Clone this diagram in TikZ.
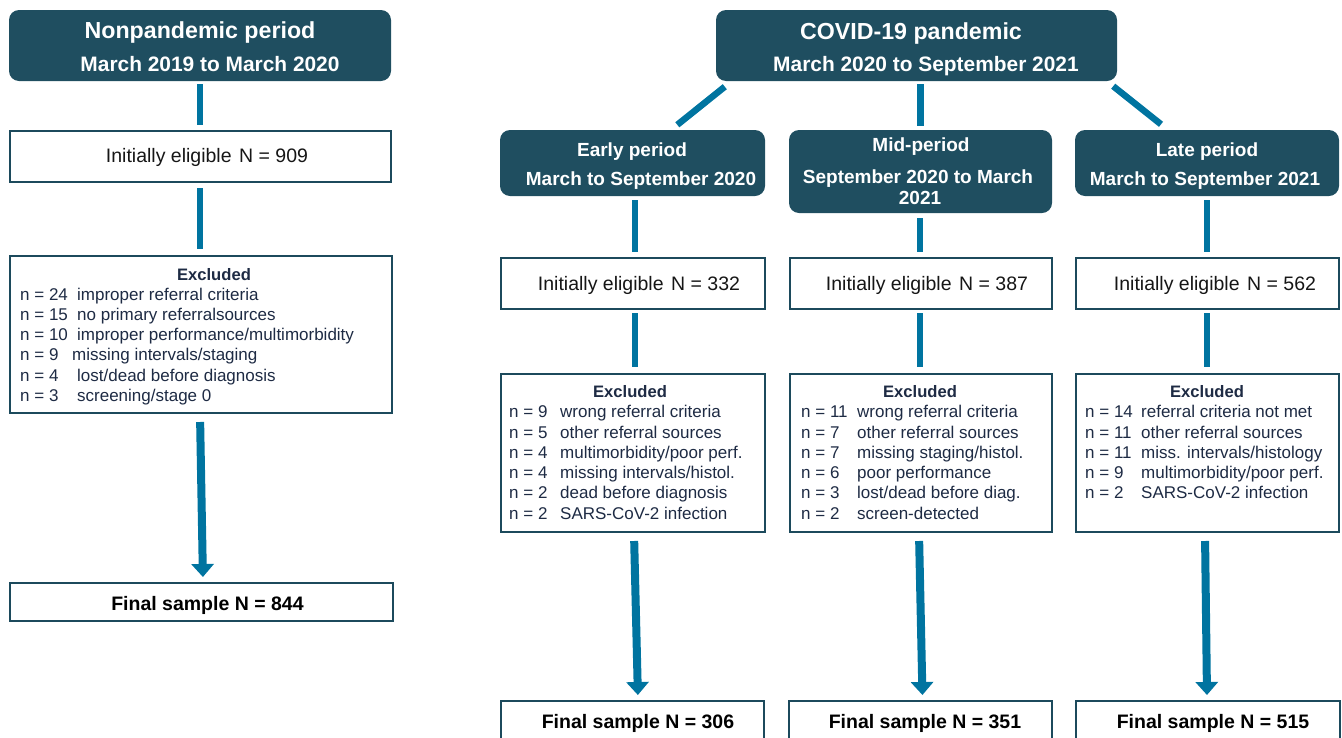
\documentclass[tikz,border=0pt]{standalone}
\usepackage{fontspec}
\setmainfont{Liberation Sans}
\usetikzlibrary{arrows.meta,calc}
\definecolor{hdrfill}{RGB}{31,78,96}
\definecolor{bord}{RGB}{28,74,92}
\definecolor{connc}{RGB}{0,116,160}
\definecolor{navy}{RGB}{30,43,68}
\definecolor{ink}{RGB}{22,22,22}
\newcommand{\fsz}[2]{\fontsize{#1}{#2}\selectfont}
\newcommand{\nn}[2]{\makebox[#1][l]{#2}}
\begin{document}
\begin{tikzpicture}[x=1pt,y=-1pt,
  hdr/.style={fill=hdrfill, rounded corners=10pt, inner sep=0pt},
  bx/.style={draw=bord, line width=2pt, fill=white, inner sep=0pt},
  conn/.style={draw=connc, line width=6.5pt},
  arr/.style={draw=connc, line width=8pt, -{Triangle[width=22pt,length=13pt]}},
  tx/.style={inner sep=0pt, anchor=base},
  hA/.style={tx, text=white, font=\bfseries\fsz{23.2}{27}},
  hB/.style={tx, text=white, font=\bfseries\fsz{20.9}{25}},
  hS/.style={tx, text=white, font=\bfseries\fsz{19}{23}},
  el/.style={tx, text=ink, font=\fsz{19.5}{23}},
  exh/.style={tx, text=navy, font=\bfseries\fsz{16.6}{20}},
  exr/.style={inner sep=0pt, anchor=base west, text=navy, font=\fsz{17}{20.3}},
  fin/.style={tx, text=black, font=\bfseries\fsz{19.5}{23}}
]
\useasboundingbox (0,0) rectangle (1342,737);
\clip (0,0) rectangle (1342,737);

% ---------------- Left column ----------------
\node[hdr, minimum width=382pt, minimum height=71pt] (np) at (200,45.5) {};
\node[hA] (np1) at (200,38.3) {Nonpandemic period};
\node[hB] (np2) at (210,71) {March 2019 to March 2020};

\node[bx, minimum width=381pt, minimum height=51pt] (eligL) at (200.5,156.5) {};
\node[el] (eligLt) at (207,162) {Initially eligible\hspace{7.5pt}N = 909};

\node[bx, minimum width=382pt, minimum height=157pt] (exclL) at (201,334.5) {};
\node[exh] (exclLh) at (214,280) {Excluded};
\node[exr] (exclLr) at (20,300) {\begin{tabular}[t]{@{}l@{}}
\nn{57pt}{n = 24}improper referral criteria\\
\nn{57pt}{n = 15}no primary referralsources\\
\nn{57pt}{n = 10}improper performance/multimorbidity\\
\nn{52pt}{n = 9}missing intervals/staging\\
\nn{57pt}{n = 4}lost/dead before diagnosis\\
\nn{57pt}{n = 3}screening/stage 0
\end{tabular}};

\node[bx, minimum width=383pt, minimum height=38pt] (finL) at (201.5,602) {};
\node[fin] (finLt) at (207.5,610) {Final sample N = 844};

\draw[conn, shorten <=3pt, shorten >=5pt] (np.south) -- (np.south |- eligL.north);
\draw[conn, shorten <=5pt, shorten >=6pt] (eligL.south -| np.south) -- (np.south |- exclL.north);
\draw[arr, shorten <=8pt, shorten >=5pt] ($(exclL.south)+(-1,0)$) -- ($(finL.north)+(1.5,0)$);

% ---------------- Right part ----------------
\node[hdr, minimum width=401pt, minimum height=71pt] (cov) at (916.5,45.5) {};
\node[hA] (cov1) at (911,39) {COVID-19 pandemic};
\node[hB] (cov2) at (926,71) {March 2020 to September 2021};

\node[hdr, minimum width=265pt, minimum height=66pt] (earlyH) at (632.5,163) {};
\node[hS] (earlyH1) at (632,156) {Early period};
\node[hS] (earlyH2) at (641,185) {March to September 2020};

\node[hdr, minimum width=263pt, minimum height=83pt] (midH) at (920.5,171.5) {};
\node[hS] (midH1) at (921,151.7) {Mid-period};
\node[hS] (midH2) at (918,183.3) {September 2020 to March};
\node[hS] (midH3) at (920,204) {2021};

\node[hdr, minimum width=264pt, minimum height=66pt] (lateH) at (1207,163) {};
\node[hS] (lateH1) at (1207,156) {Late period};
\node[hS] (lateH2) at (1205,185) {March to September 2021};

% connectors from pandemic header
\draw[conn] ($(cov.south west)+(9,5.5)$) -- ($(earlyH.north)+(44.8,-5)$);
\draw[conn, shorten <=3pt, shorten >=4pt] (cov.south -| midH.north) -- (midH.north);
\draw[conn] ($(cov.south east)+(-4,5)$) -- ($(lateH.north)+(-46,-5.5)$);

% eligible boxes
\node[bx, minimum width=264pt, minimum height=51pt] (eligE) at (633,283.5) {};
\node[el] (eligEt) at (639,290) {Initially eligible\hspace{7.5pt}N = 332};
\node[bx, minimum width=262pt, minimum height=51pt] (eligM) at (921,283.5) {};
\node[el] (eligMt) at (927,290) {Initially eligible\hspace{7.5pt}N = 387};
\node[bx, minimum width=263pt, minimum height=51pt] (eligLa) at (1207.5,283.5) {};
\node[el] (eligLat) at (1215,290) {Initially eligible\hspace{7.5pt}N = 562};

\draw[conn, shorten <=4pt, shorten >=5pt] ($(earlyH.south)+(2.5,0)$) -- ($(eligE.north)+(2,0)$);
\draw[conn, shorten <=5pt, shorten >=5pt] ($(midH.south)+(-0.5,0)$) -- ($(eligM.north)+(-1,0)$);
\draw[conn, shorten <=4pt, shorten >=5pt] (lateH.south) -- ($(eligLa.north)+(-0.5,0)$);

% excluded boxes
\node[bx, minimum width=264pt, minimum height=158pt] (exclE) at (633,453) {};
\node[exh] (exclEh) at (630,397.3) {Excluded};
\node[exr] (exclEr) at (509,417.7) {\begin{tabular}[t]{@{}l@{}}
\nn{51pt}{n = 9}wrong referral criteria\\
\nn{51pt}{n = 5}other referral sources\\
\nn{51pt}{n = 4}multimorbidity/poor perf.\\
\nn{51pt}{n = 4}missing intervals/histol.\\
\nn{51pt}{n = 2}dead before diagnosis\\
\nn{51pt}{n = 2}SARS-CoV-2 infection
\end{tabular}};

\node[bx, minimum width=262pt, minimum height=158pt] (exclM) at (921,453) {};
\node[exh] (exclMh) at (920,397.3) {Excluded};
\node[exr] (exclMr) at (801,417.7) {\begin{tabular}[t]{@{}l@{}}
\nn{56pt}{n = 11}wrong referral criteria\\
\nn{56pt}{n = 7}other referral sources\\
\nn{56pt}{n = 7}missing staging/histol.\\
\nn{56pt}{n = 6}poor performance\\
\nn{56pt}{n = 3}lost/dead before diag.\\
\nn{56pt}{n = 2}screen-detected
\end{tabular}};

\node[bx, minimum width=263pt, minimum height=158pt] (exclLa) at (1207.5,453) {};
\node[exh] (exclLah) at (1207,397.3) {Excluded};
\node[exr] (exclLar) at (1085,417.7) {\begin{tabular}[t]{@{}l@{}}
\nn{56pt}{n = 14}referral criteria not met\\
\nn{56pt}{n = 11}other referral sources\\
\nn{56pt}{n = 11}miss. intervals/histology\\
\nn{56pt}{n = 9}multimorbidity/poor perf.\\
\nn{56pt}{n = 2}SARS-CoV-2 infection
\end{tabular}};

\draw[conn, shorten <=3pt, shorten >=6pt] ($(eligE.south)+(2,0)$) -- ($(exclE.north)+(2,0)$);
\draw[conn, shorten <=3pt, shorten >=6pt] ($(eligM.south)+(-1,0)$) -- ($(exclM.north)+(-1,0)$);
\draw[conn, shorten <=3pt, shorten >=6pt] ($(eligLa.south)+(-0.5,0)$) -- ($(exclLa.north)+(-0.5,0)$);

% final boxes
\node[bx, minimum width=263pt, minimum height=44pt] (finE) at (632.5,723) {};
\node[fin] (finEt) at (638,728) {Final sample N = 306};
\node[bx, minimum width=262.5pt, minimum height=44pt] (finM) at (920.25,723) {};
\node[fin] (finMt) at (925,728) {Final sample N = 351};
\node[bx, minimum width=263.5pt, minimum height=44pt] (finLa) at (1207.75,723) {};
\node[fin] (finLat) at (1213,728) {Final sample N = 515};

\draw[arr, shorten <=8pt, shorten >=5pt] ($(exclE.south)+(1,0)$) -- ($(finE.north)+(5.5,0)$);
\draw[arr, shorten <=8pt, shorten >=5pt] ($(exclM.south)+(-2,0)$) -- ($(finM.north)+(2.3,0)$);
\draw[arr, shorten <=8pt, shorten >=5pt] ($(exclLa.south)+(-2.5,0)$) -- ($(finLa.north)+(-0.7,0)$);
\end{tikzpicture}
\end{document}
